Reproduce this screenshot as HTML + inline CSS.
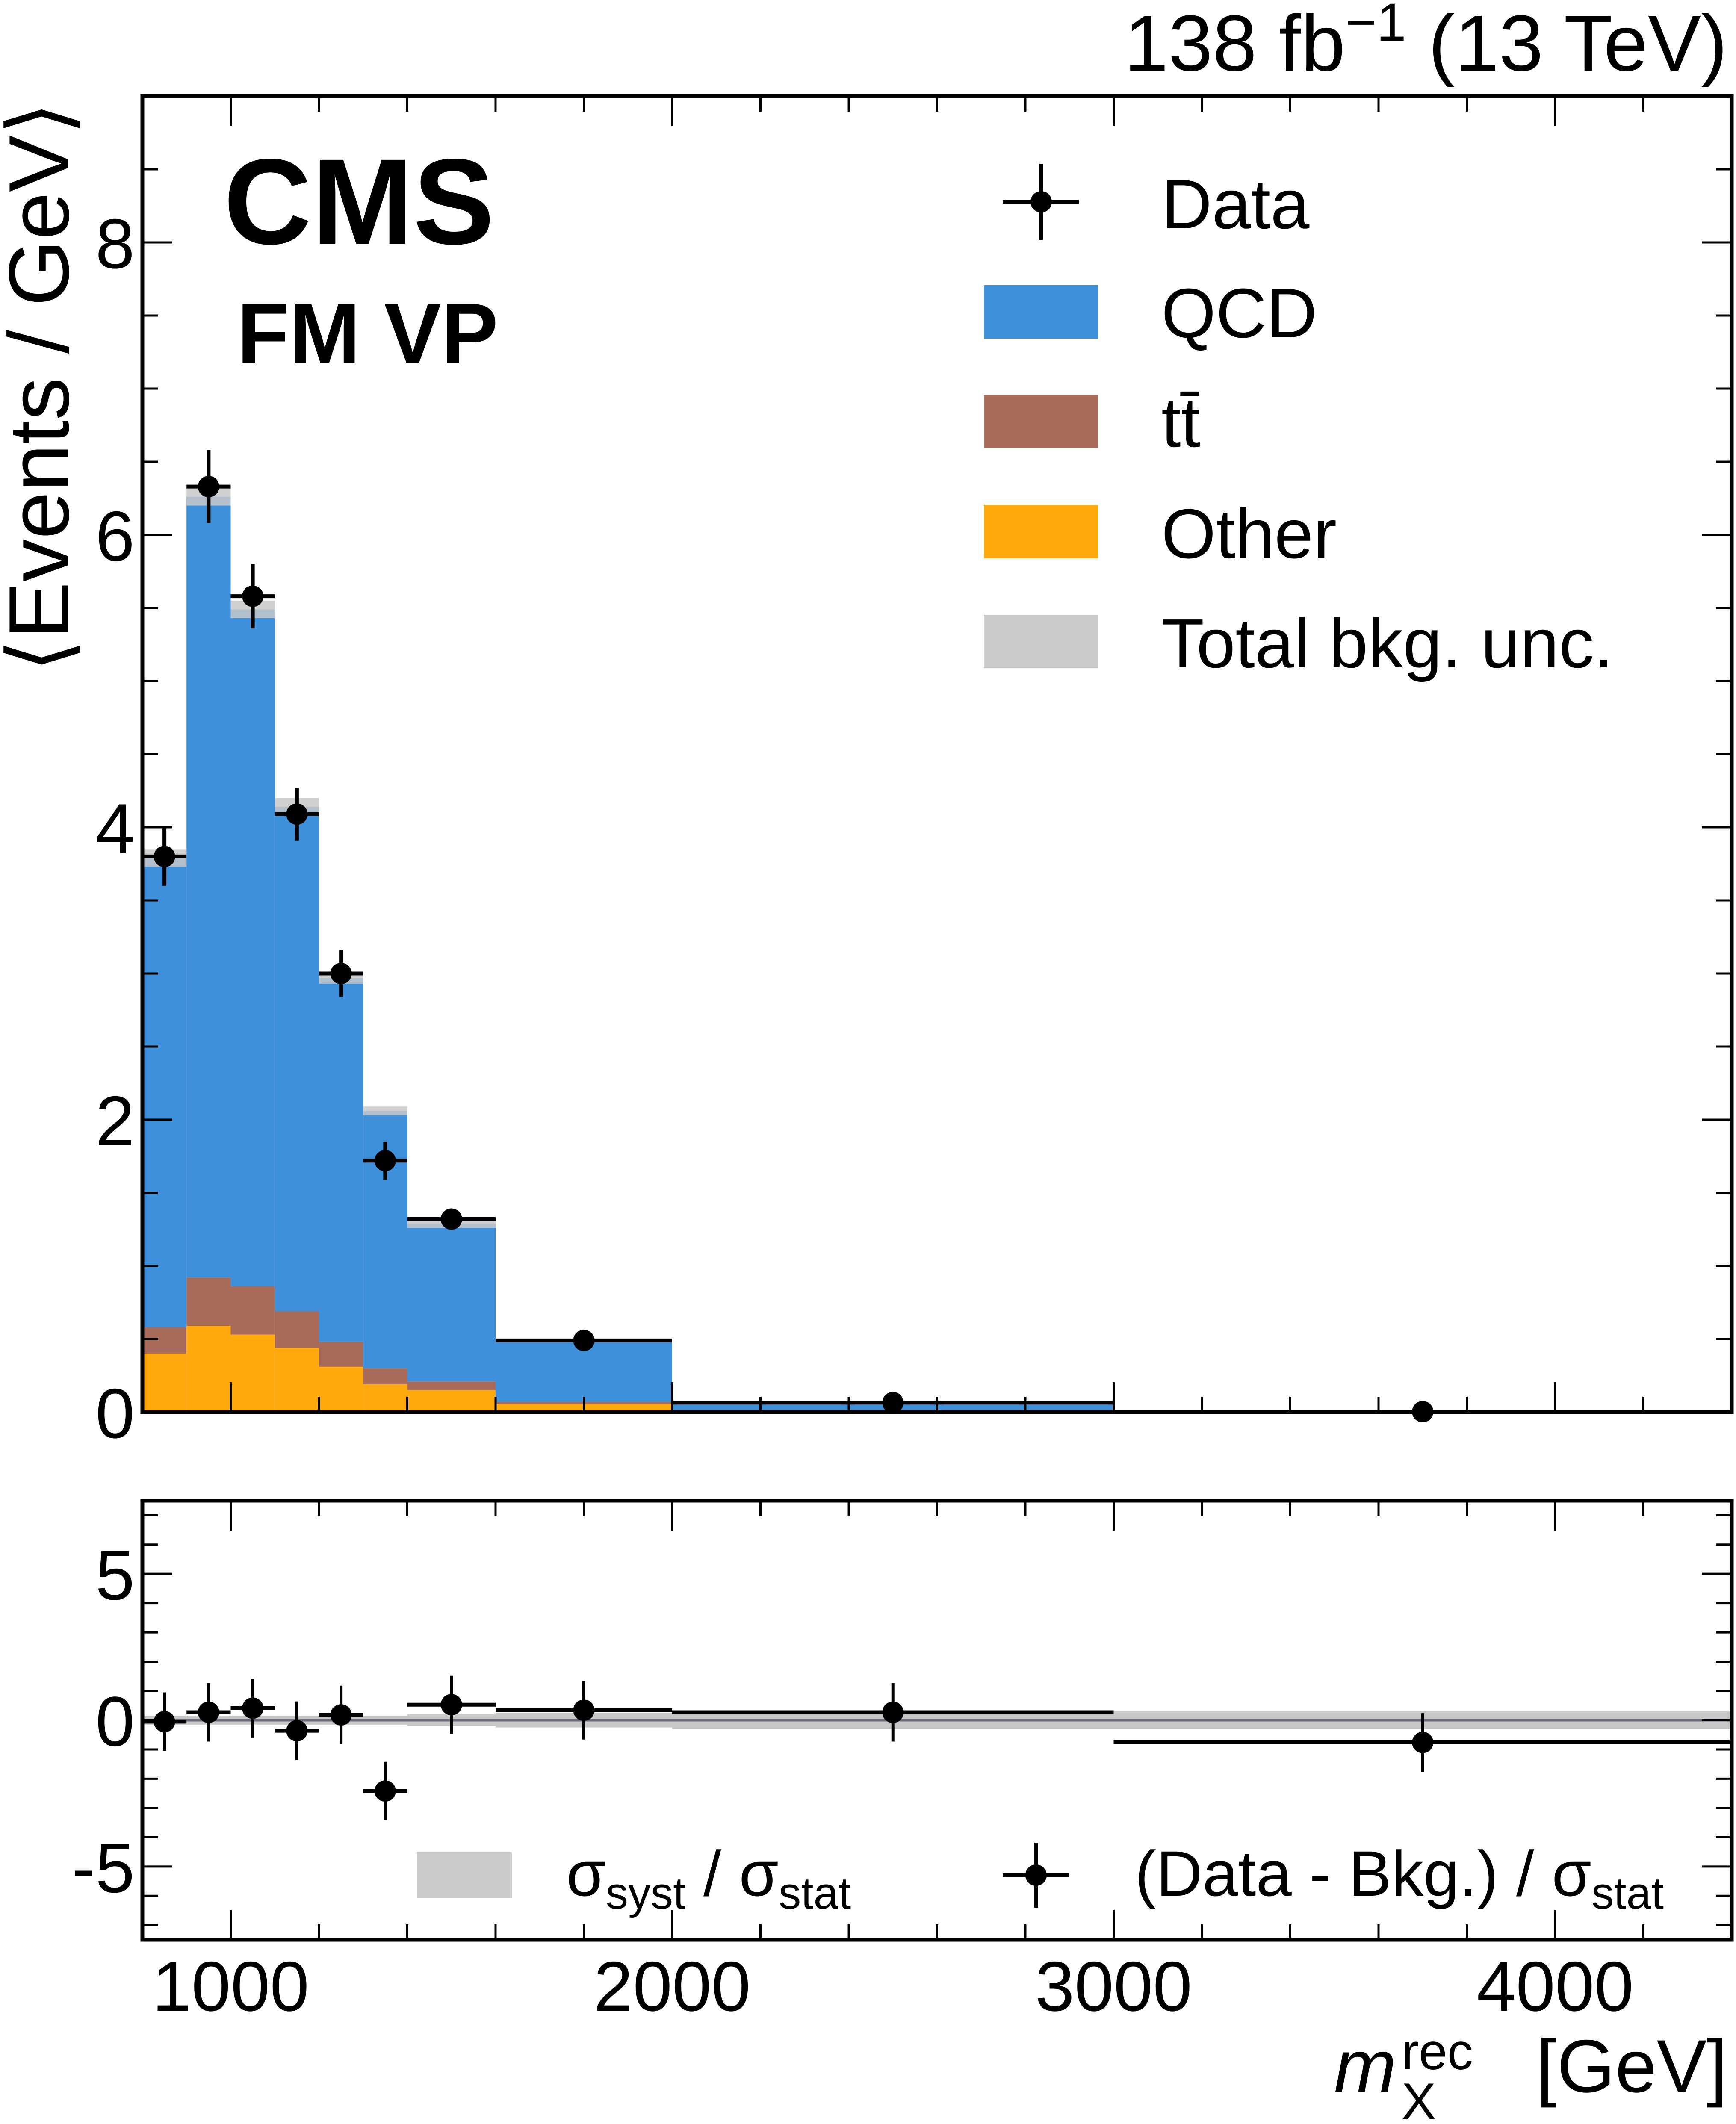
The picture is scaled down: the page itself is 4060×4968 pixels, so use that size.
<!DOCTYPE html>
<html><head><meta charset="utf-8"><style>
html,body{margin:0;padding:0;background:#fff;}
svg{display:block;font-family:"Liberation Sans",sans-serif;}
</style></head><body>
<svg id="chart" width="4060" height="4968" viewBox="0 0 4060 4968" xmlns="http://www.w3.org/2000/svg">
<g id="main"></g>
<g id="ratio"></g>
<g id="texts">
<text x="4040" y="165" text-anchor="end" font-size="186">138 fb<tspan dy="-70" font-size="125">−1</tspan><tspan dy="70"> (13 TeV)</tspan></text>
<text x="523" y="570" font-size="285" font-weight="bold">CMS</text>
<text x="554" y="849" font-size="200" font-weight="bold">FM VP</text>
<text transform="translate(160,238) rotate(-90)" text-anchor="end" font-size="200">⟨Events / GeV⟩</text>
<g>
<text x="3120" y="4893" font-size="175" font-style="italic">m</text>
<text x="3278" y="4840" font-size="120">rec</text>
<text x="3278" y="4956" font-size="120">X</text>
<text x="4040" y="4893" text-anchor="end" font-size="175">[GeV]</text>
</g>
</g>
<g id="legend">
<g><line x1="2345" y1="472" x2="2523" y2="472" stroke="#000" stroke-width="9"/><line x1="2435" y1="383" x2="2435" y2="561" stroke="#000" stroke-width="9"/><circle cx="2435" cy="472" r="25"/><text x="2716" y="534" font-size="164">Data</text></g>
<g><rect x="2301" y="667" width="267" height="125" fill="#3f90da"/><text x="2716" y="789" font-size="164">QCD</text></g>
<g><rect x="2301" y="924" width="267" height="124" fill="#a96b59"/><text x="2716" y="1045" font-size="164">tt̄</text></g>
<g><rect x="2301" y="1181" width="267" height="125" fill="#ffa90e"/><text x="2716" y="1305" font-size="164">Other</text></g>
<g><rect x="2301" y="1438" width="267" height="125" fill="#cbcbcb"/><text x="2716" y="1561" font-size="164">Total bkg. unc.</text></g>
<g><rect x="975" y="4332" width="222" height="108" fill="#cbcbcb"/><text x="1324" y="4434" font-size="150">σ<tspan dy="30" font-size="105">syst</tspan><tspan dy="-30"> / σ</tspan><tspan dy="30" font-size="105">stat</tspan></text></g>
<g><line x1="2345" y1="4386" x2="2500" y2="4386" stroke="#000" stroke-width="9"/><line x1="2423" y1="4310" x2="2423" y2="4462" stroke="#000" stroke-width="9"/><circle cx="2423" cy="4386" r="25"/><text x="2654" y="4434" font-size="150">(Data - Bkg.) / σ<tspan dy="30" font-size="105">stat</tspan></text></g>
</g>
</svg>
<script>
const edges=[800,900,1000,1100,1200,1300,1400,1600,2000,3000,4400];
const dataX=[850,950,1050,1150,1250,1350,1500,1800,2500,3700];
const otherVals=[0.40,0.59,0.53,0.44,0.31,0.19,0.15,0.055,0.01,0.0];
const ttVals=[0.18,0.33,0.33,0.25,0.17,0.11,0.06,0.015,0.005,0.0];
const qcdVals=[3.21,5.34,4.63,3.45,2.49,1.76,1.08,0.42,0.05,0.0];
const uncVals=[0.06,0.06,0.06,0.06,0.04,0.03,0.03,0.01,0.005,0.0];
const dataVals=[3.80,6.33,5.58,4.09,3.00,1.72,1.32,0.49,0.065,0.003];
const dataErr=[0.20,0.25,0.22,0.18,0.16,0.13,0.07,0.03,0.01,0.0];
const pullVals=[-0.05,0.27,0.41,-0.36,0.18,-2.42,0.53,0.34,0.27,-0.76];
const pullErr=[1,1,1,1,1,1,1,1,1,1];
const systVals=[0.15,0.15,0.15,0.15,0.15,0.15,0.2,0.25,0.3,0.3];
const yTicksMain=[0,2,4,6,8];
const yTicksPull=[-5,0,5];
const xTicks=[1000,2000,3000,4000];

const NS="http://www.w3.org/2000/svg";
const L=333,R=4050,T1=225,B1=3303,T2=3510,B2=4537;
const X=v=>L+(v-800)*(R-L)/3600;
const Y1=v=>B1-v*(B1-T1)/9;
const Y2=v=>(T2+B2)/2-v*(B2-T2)/15;
function el(p,t,a){const e=document.createElementNS(NS,t);for(const k in a)e.setAttribute(k,a[k]);p.appendChild(e);return e;}
const main=document.getElementById('main'),rat=document.getElementById('ratio');

for(let i=0;i<qcdVals.length;i++){
  const x0=X(edges[i]),x1=X(edges[i+1]);
  const o=otherVals[i],t=o+ttVals[i],q=t+qcdVals[i],u=uncVals[i];
  let r=el(main,'rect',{x:x0,y:Y1(q),width:x1-x0,height:Y1(t)-Y1(q),fill:'#3f90da'});
  
  r=el(main,'rect',{x:x0,y:Y1(t),width:x1-x0,height:Y1(o)-Y1(t),fill:'#a96b59'});
  
  r=el(main,'rect',{x:x0,y:Y1(o),width:x1-x0,height:Y1(0)-Y1(o),fill:'#ffa90e'});
  
  if(u>0){r=el(main,'rect',{x:x0,y:Y1(q+u),width:x1-x0,height:Y1(q-u)-Y1(q+u),fill:'#c8c8c8',opacity:0.85});
  }
  const g=el(main,'g',{});
  
  const yd=Y1(dataVals[i]);
  el(g,'line',{x1:x0,x2:x1,y1:yd,y2:yd,stroke:'#000','stroke-width':9});
  el(g,'line',{x1:X(dataX[i]),x2:X(dataX[i]),y1:Y1(dataVals[i]+dataErr[i]),y2:Y1(dataVals[i]-dataErr[i]),stroke:'#000','stroke-width':9});
  el(g,'circle',{cx:X(dataX[i]),cy:yd,r:25});
  const s=el(rat,'rect',{x:x0,y:Y2(systVals[i]),width:x1-x0,height:Y2(-systVals[i])-Y2(systVals[i]),fill:'#c8c8c8'});
  
}
el(rat,'line',{x1:L,x2:R,y1:Y2(0),y2:Y2(0),stroke:'#6a6e78','stroke-width':6});
for(let i=0;i<pullVals.length;i++){
  const x0=X(edges[i]),x1=X(edges[i+1]);
  const g=el(rat,'g',{});
  
  const yp=Y2(pullVals[i]);
  el(g,'line',{x1:x0,x2:x1,y1:yp,y2:yp,stroke:'#000','stroke-width':9});
  el(g,'line',{x1:X(dataX[i]),x2:X(dataX[i]),y1:Y2(pullVals[i]+pullErr[i]),y2:Y2(pullVals[i]-pullErr[i]),stroke:'#000','stroke-width':7});
  el(g,'circle',{cx:X(dataX[i]),cy:yp,r:25});
}
function frame(p,T,B,name){
  const f=el(p,'rect',{x:L,y:T,width:R-L,height:B-T,fill:'none',stroke:'#000','stroke-width':9});
  
  for(let v=800;v<=4400;v+=200){const big=v%1000===0,len=big?70:36;
    el(p,'line',{x1:X(v),x2:X(v),y1:T,y2:T+len,stroke:'#000','stroke-width':5});
    el(p,'line',{x1:X(v),x2:X(v),y1:B,y2:B-len,stroke:'#000','stroke-width':5});}
}
frame(main,T1,B1,'main-frame');frame(rat,T2,B2,'pull-frame');
for(let v=0;v<=9;v+=0.5){const big=v%2===0,len=big?70:37;
  el(main,'line',{x1:L,x2:L+len,y1:Y1(v),y2:Y1(v),stroke:'#000','stroke-width':5});
  el(main,'line',{x1:R,x2:R-len,y1:Y1(v),y2:Y1(v),stroke:'#000','stroke-width':5});}
for(let v=-7;v<=7;v+=1){if(v===0)continue;const big=v%5===0,len=big?70:37;
  el(rat,'line',{x1:L,x2:L+len,y1:Y2(v),y2:Y2(v),stroke:'#000','stroke-width':5});
  el(rat,'line',{x1:R,x2:R-len,y1:Y2(v),y2:Y2(v),stroke:'#000','stroke-width':5});}
el(rat,'line',{x1:L,x2:L+70,y1:Y2(0),y2:Y2(0),stroke:'#000','stroke-width':5});
el(rat,'line',{x1:R,x2:R-70,y1:Y2(0),y2:Y2(0),stroke:'#000','stroke-width':5});
yTicksMain.forEach(v=>{const t=el(main,'text',{x:315,y:Y1(v)+60,'text-anchor':'end','font-size':165});t.textContent=v;
  });
yTicksPull.forEach(v=>{const t=el(rat,'text',{x:315,y:Y2(v)+60,'text-anchor':'end','font-size':165});t.textContent=v;
  });
xTicks.forEach(v=>{const t=el(rat,'text',{x:X(v),y:4703,'text-anchor':'middle','font-size':165});t.textContent=v;
  });
</script>
</body></html>
